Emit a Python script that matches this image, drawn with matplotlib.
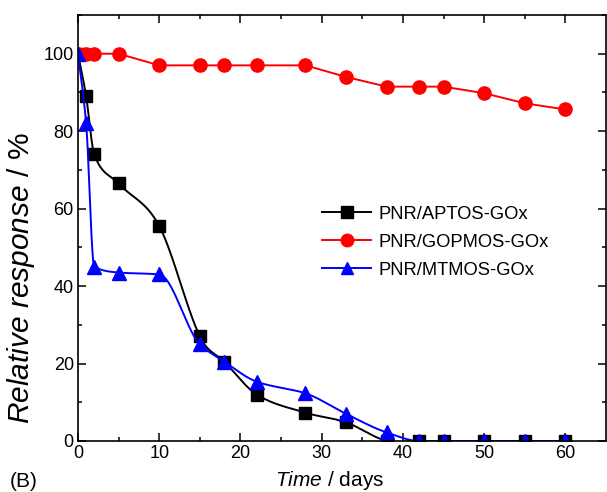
import numpy as np
import matplotlib
matplotlib.use("Agg")
import matplotlib.pyplot as plt

plt.rcParams["font.family"] = ["Liberation Sans", "DejaVu Sans"]
plt.rcParams["mathtext.fontset"] = "custom"
plt.rcParams["mathtext.rm"] = "Liberation Sans"
plt.rcParams["mathtext.it"] = "Liberation Sans:italic"

days = [0, 1, 2, 5, 10, 15, 18, 22, 28, 33, 38, 42, 45, 50, 55, 60]
aptos = [100, 89, 74, 66.5, 55.5, 27, 20.5, 12, 7.3, 4.8, 0, 0, 0, 0, 0, 0]
gopmos = [100, 100, 100, 100, 97, 97, 97, 97, 97, 94, 91.5, 91.5, 91.5, 89.8, 87.2, 85.6]
mtmos = [100, 82, 45, 43.5, 43, 25, 20.5, 15.3, 12.3, 7, 2.2, 0, 0, 0, 0, 0]
labels = ["PNR/APTOS-GOx", "PNR/GOPMOS-GOx", "PNR/MTMOS-GOx"]


def smooth(x, y, xs, monotone=True):
    # cubic hermite curve through the points, only for the connecting line
    x = np.asarray(x, float)
    y = np.asarray(y, float)
    h = np.diff(x)
    d = np.diff(y) / h
    m = np.zeros_like(y)
    for k in range(1, len(x) - 1):
        if monotone:
            if d[k - 1] * d[k] > 0:
                w1 = 2 * h[k] + h[k - 1]
                w2 = h[k] + 2 * h[k - 1]
                m[k] = (w1 + w2) / (w1 / d[k - 1] + w2 / d[k])
        else:
            m[k] = (y[k + 1] - y[k - 1]) / (x[k + 1] - x[k - 1])
    m[0] = d[0]
    m[-1] = d[-1]
    i = np.clip(np.searchsorted(x, xs) - 1, 0, len(x) - 2)
    t = (xs - x[i]) / h[i]
    h00 = 2 * t**3 - 3 * t**2 + 1
    h10 = t**3 - 2 * t**2 + t
    h01 = -2 * t**3 + 3 * t**2
    h11 = t**3 - t**2
    return h00 * y[i] + h10 * h[i] * m[i] + h01 * y[i + 1] + h11 * h[i] * m[i + 1]


fig = plt.figure(figsize=(6.07, 4.92), dpi=100)
ax = fig.add_axes([0.1285, 0.1037, 0.8700, 0.8658])

xs = np.linspace(0, 60, 1200)
ax.plot(xs, smooth(days, aptos, xs, monotone=False), color="black", lw=1.4)
ax.plot(days, aptos, "s", color="black", ms=8.5, ls="None")
ax.plot(days, gopmos, "o-", color="red", ms=9.5, lw=1.4)
ax.plot(xs, smooth(days, mtmos, xs), color="blue", lw=1.4)
ax.plot(days, mtmos, "^", color="blue", ms=9.5, ls="None")

# legend proxies
h1, = ax.plot([], [], "s-", color="black", ms=8, lw=1.4)
h2, = ax.plot([], [], "o-", color="red", ms=9, lw=1.4)
h3, = ax.plot([], [], "^-", color="blue", ms=9, lw=1.4)
ax.legend([h1, h2, h3], labels, frameon=False, fontsize=13.2,
          loc="center left", bbox_to_anchor=(0.462, 0.467),
          borderpad=0, borderaxespad=0,
          handlelength=2.7, handletextpad=0.38, labelspacing=0.6)

ax.set_xlim(0, 65)
ax.set_ylim(0, 110)
ax.set_xticks([0, 10, 20, 30, 40, 50, 60])
ax.set_xticks(np.arange(5, 65, 10), minor=True)
ax.set_yticks([0, 20, 40, 60, 80, 100])
ax.set_yticks([10, 30, 50, 70, 90, 110], minor=True)
ax.tick_params(which="both", direction="in", top=True, right=True, labelsize=13, width=1.1)
ax.tick_params(which="major", length=6, pad=3)
ax.tick_params(which="minor", length=3)
for s in ax.spines.values():
    s.set_linewidth(1.2)

ax.set_xlabel(r"$\it{Time}$ / days", fontsize=15)
ax.xaxis.set_label_coords(0.477, -0.066)
ax.set_ylabel(r"$\it{Relative\ response}$ / %", fontsize=21.5)
ax.yaxis.set_label_coords(-0.078, 0.383)
fig.text(0.016, 0.01, "(B)", fontsize=15)

fig.savefig("out.png", dpi=100)
